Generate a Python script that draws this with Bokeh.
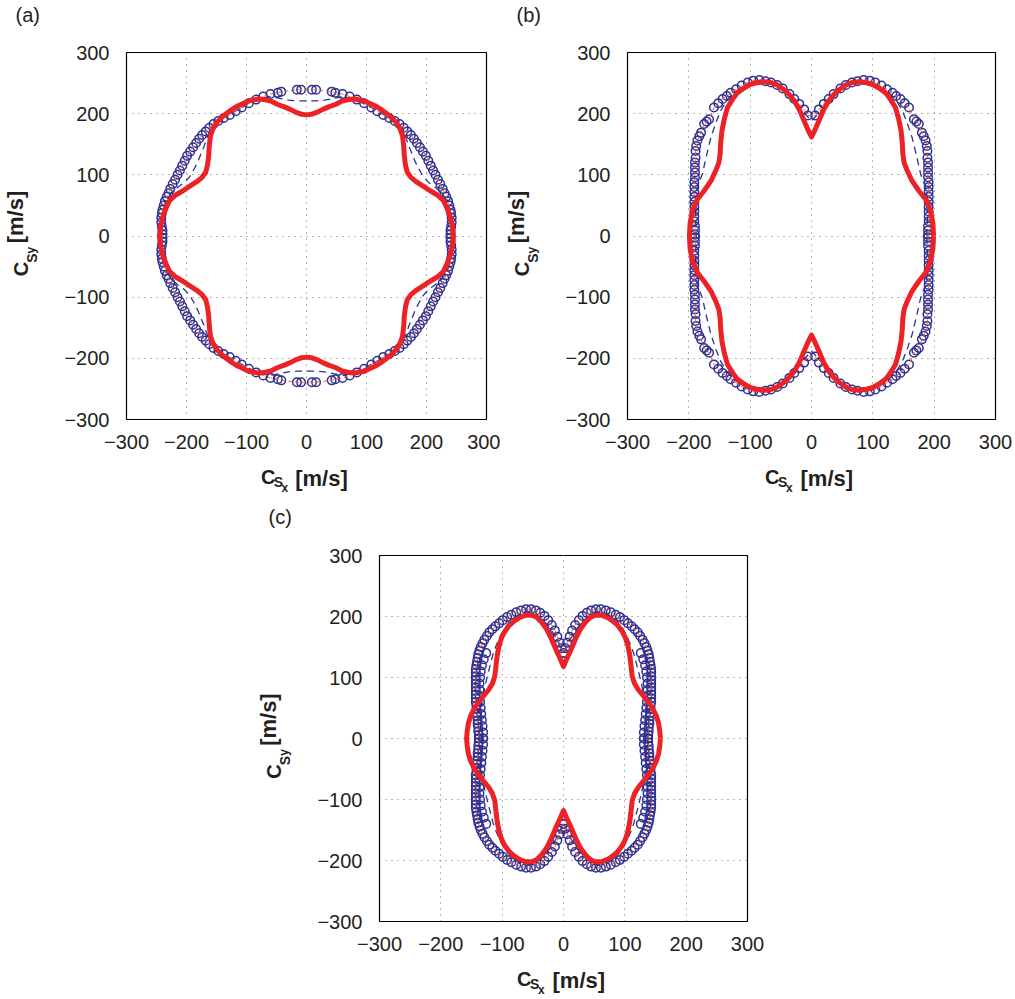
import math
from bokeh.plotting import figure
from bokeh.layouts import column, row
from bokeh.models import Spacer, FixedTicker, Range1d, LinearAxis
from bokeh.embed import file_html
from bokeh.resources import INLINE

# ---------------- data (first quadrant, from 0 deg to 90 deg; curves are symmetric) ----
TICK_VALUES = [-300, -200, -100, 0, 100, 200, 300]
TICK_LABELS = ["\u2212300", "\u2212200", "\u2212100", "0", "100", "200", "300"]
PANEL_TAGS = ["(a)", "(b)", "(c)"]

# Panel (a)
A_RED_X = [245, 243, 239, 234, 228, 218, 206, 195, 184, 175, 168, 165, 163, 162, 160, 156, 150, 142, 134, 124, 114, 103, 92, 80, 70, 58, 48, 37, 27, 17, 8, 0]
A_RED_Y = [0, 17, 33, 46, 58, 67, 74, 81, 88, 95, 104, 116, 131, 148, 164, 175, 185, 193, 200, 207, 213, 218, 222, 224, 223, 220, 215, 211, 207, 202, 199, 198]
A_DASH_X = [242, 243, 240, 235, 226, 214, 203, 194, 187, 181, 176, 171, 166, 160, 150, 138, 124, 108, 92, 76, 62, 45, 30, 15, 0]
A_DASH_Y = [0, 20, 40, 56, 70, 80, 88, 98, 110, 122, 134, 146, 160, 175, 186, 194, 201, 210, 218, 224, 228, 225, 222, 221, 221]
A_CIRC_X = [240, 240, 241, 242, 242, 241, 240, 238, 236, 233, 230, 227, 223, 219, 215, 211, 207, 203, 199, 194, 189, 184, 179, 174, 168, 162, 155, 147, 138, 128, 118, 108, 96, 84, 72, 60, 48, 42, 16, 9]
A_CIRC_Y = [3, 9, 15, 22, 30, 37, 43, 50, 57, 64, 70, 77, 85, 92, 100, 107, 115, 123, 131, 138, 145, 152, 159, 165, 171, 177, 183, 188, 193, 198, 204, 210, 217, 223, 228, 232, 234, 236, 239, 239]

# Panel (b)
B_RED_X = [199, 198, 194, 186, 175, 164, 156, 151, 149, 148, 146, 142, 137, 129, 121, 110, 99, 88, 77, 66, 56, 46, 37, 28, 20, 12, 5, 0]
B_RED_Y = [0, 20, 42, 60, 74, 90, 107, 120, 134, 153, 172, 192, 210, 223, 234, 242, 248, 251, 252, 251, 247, 240, 232, 221, 207, 188, 172, 162]
B_DASH_X = [188, 189, 189, 187, 183, 178, 172, 164, 156, 148, 138, 124, 104, 85, 66, 47, 30, 15, 0]
B_DASH_Y = [0, 30, 60, 75, 88, 101, 128, 161, 185, 205, 222, 236, 249, 254, 250, 240, 222, 205, 188]
B_CIRC_X = [190, 190, 190, 191, 191, 191, 191, 191, 191, 191, 191, 191, 190, 190, 190, 190, 189, 189, 188, 186, 183, 180, 175, 171, 167, 159, 152, 145, 138, 132, 123, 114, 104, 95, 85, 75, 66, 56, 47, 36, 28, 20, 12, 6]
B_CIRC_Y = [2, 9, 16, 24, 32, 40, 48, 56, 64, 72, 80, 88, 96, 104, 112, 120, 128, 139, 147, 156, 163, 169, 183, 187, 191, 210, 217, 224, 229, 234, 240, 246, 251, 254, 255, 253, 251, 247, 241, 232, 224, 216, 207, 197]

# Panel (c)
C_RED_X = [158, 157, 155, 151, 145, 138, 130, 122, 116, 112, 110, 108, 105, 101, 96, 88, 80, 72, 62, 52, 44, 36, 28, 20, 12, 5, 0]
C_RED_Y = [0, 12, 25, 38, 50, 60, 70, 80, 90, 102, 120, 137, 152, 165, 175, 186, 193, 198, 202, 202, 199, 191, 180, 164, 145, 130, 118]
C_DASH_X = [134, 135, 135, 133, 130, 127, 123, 119, 115, 110, 104, 97, 88, 78, 68, 58, 48, 38, 28, 18, 8, 0]
C_DASH_Y = [0, 20, 40, 60, 76, 90, 107, 122, 138, 152, 166, 180, 191, 200, 206, 208, 205, 198, 188, 175, 157, 142]
C_CIRC_X = [138, 138, 139, 139, 140, 140, 141, 141, 142, 142, 143, 143, 143, 143, 143, 143, 143, 143, 143, 143, 142, 141, 140, 139, 137, 135, 132, 129, 125, 121, 116, 111, 105, 99, 92, 85, 77, 69, 61, 53, 45, 38, 31, 25, 19, 14, 10, 6, 3, 0]
C_CIRC_Y = [0, 6, 12, 18, 24, 30, 36, 42, 48, 54, 60, 66, 72, 78, 84, 90, 96, 102, 108, 114, 120, 126, 132, 138, 144, 150, 156, 162, 168, 174, 179, 184, 189, 194, 199, 203, 207, 210, 212, 212, 210, 206, 201, 194, 186, 177, 167, 157, 148, 140]
C_CIRC2_X = [131, 131, 132, 133, 134, 135, 136, 137, 137, 137, 136, 135, 133, 130, 126]
C_CIRC2_Y = [0, 10, 20, 30, 40, 50, 60, 70, 80, 90, 100, 110, 120, 130, 140]

# axis-title pieces: text, centre position along the axis (data units)
XLABEL_C = (["C"], [-64])
XLABEL_SUB1 = (["S"], [-47])
XLABEL_SUB2 = (["x"], [-36])
XLABEL_UNIT = (["[m/s]"], [25])
YLABEL_C = (["C"], [-54])
YLABEL_SUB1 = (["S"], [-36])
YLABEL_SUB2 = (["y"], [-23])
YLABEL_UNIT = (["[m/s]"], [31])

# ---------------- styling ----------------
BLUE = "#2E3192"
RED = "#EC2227"
ORANGE = "#F0642D"
TEXT = "#231F20"
FONT = "Liberation Sans"


def mirror(xq, yq):
    """Close a first-quadrant path into a full curve using the plot's symmetry."""
    xs = list(xq) + [-v for v in xq[::-1]] + [-v for v in xq] + list(xq[::-1])
    ys = list(yq) + list(yq[::-1]) + [-v for v in yq] + [-v for v in yq[::-1]]
    return xs, ys


def style_axis(ax, size, bold=False, standoff=0):
    ax.major_label_text_font = FONT
    ax.major_label_text_font_size = f"{size}px"
    ax.major_label_text_font_style = "bold" if bold else "normal"
    ax.major_label_text_color = TEXT
    ax.major_tick_in = 0
    ax.major_tick_out = 0
    ax.minor_tick_in = 0
    ax.minor_tick_out = 0
    ax.axis_line_color = None
    ax.major_label_standoff = standoff


def text_axis(p, side, piece, size, standoff):
    texts, pos = piece
    ax = LinearAxis(ticker=FixedTicker(ticks=pos),
                    major_label_overrides={v: t for v, t in zip(pos, texts)})
    style_axis(ax, size, True, standoff)
    if side == "left":
        ax.major_label_orientation = "parallel"
    p.add_layout(ax, side)


def make_panel(tag, red, dash, circ, width, height, bl, br, bt, bb, tag_gap, circ2=None):
    p = figure(width=width, height=height,
               x_range=Range1d(-300, 300), y_range=Range1d(-300, 300),
               output_backend="svg", toolbar_location=None,
               min_border_left=bl, min_border_right=br,
               min_border_top=bt, min_border_bottom=bb)
    p.background_fill_color = "white"
    p.border_fill_color = "white"
    p.outline_line_color = "black"
    p.outline_line_width = 1.2

    xmain = p.below[0]
    ymain = p.left[0]
    ticker = FixedTicker(ticks=TICK_VALUES)
    overrides = {v: s for v, s in zip(TICK_VALUES, TICK_LABELS)}
    for ax in (xmain, ymain):
        ax.ticker = ticker
        ax.major_label_overrides = overrides
    style_axis(xmain, 20, False, 15)
    style_axis(ymain, 20, False, 17)
    for g in (p.xgrid[0], p.ygrid[0]):
        g.ticker = ticker
        g.grid_line_color = "#6d6d6d"
        g.grid_line_dash = "1 5"
        g.grid_line_width = 1

    # blank band above the frame that lifts the panel tag up
    gap = LinearAxis(ticker=FixedTicker(ticks=[0]), major_label_overrides={0: " "})
    style_axis(gap, 1)
    gap.major_tick_out = tag_gap
    gap.major_tick_line_color = "white"
    p.add_layout(gap, "above")

    p.title.text = tag
    p.title.align = "left"
    p.title.offset = -111
    p.title.standoff = 0
    p.title.text_font = FONT
    p.title.text_font_size = "20px"
    p.title.text_font_style = "normal"
    p.title.text_color = TEXT

    # axis titles built from pieces so that nested subscripts stay real text
    text_axis(p, "below", XLABEL_C, 20, 14)
    text_axis(p, "below", XLABEL_SUB1, 14, -17)
    text_axis(p, "below", XLABEL_SUB2, 12, -12)
    text_axis(p, "below", XLABEL_UNIT, 22, -32)
    text_axis(p, "left", YLABEL_SUB2, 12, 23)
    text_axis(p, "left", YLABEL_SUB1, 14, -19)
    text_axis(p, "left", YLABEL_C, 20, -11)
    text_axis(p, "left", YLABEL_UNIT, 22, -21)

    cx, cy = mirror(*circ)
    dx_, dy_ = mirror(*dash)
    rx, ry = mirror(*red)

    p.scatter(cx, cy, marker="circle", size=8.5, fill_color=None,
              line_color=BLUE, line_width=1.5)
    if circ2 is not None:
        c2x, c2y = mirror(*circ2)
        p.scatter(c2x, c2y, marker="circle", size=8.5, fill_color=None,
                  line_color=BLUE, line_width=1.5)
    p.line(dx_, dy_, line_color=BLUE, line_width=1.3, line_dash="7 5")
    p.line(cx, cy, line_color=ORANGE, line_width=1.0, line_dash="4 3")
    p.line(rx, ry, line_color=RED, line_width=5, line_join="round")
    return p


pa = make_panel(PANEL_TAGS[0], (A_RED_X, A_RED_Y), (A_DASH_X, A_DASH_Y), (A_CIRC_X, A_CIRC_Y),
                500, 500, 118, 14, 52, 81, 23)
pb = make_panel(PANEL_TAGS[1], (B_RED_X, B_RED_Y), (B_DASH_X, B_DASH_Y), (B_CIRC_X, B_CIRC_Y),
                515, 500, 127, 20, 52, 81, 23)
pc = make_panel(PANEL_TAGS[2], (C_RED_X, C_RED_Y), (C_DASH_X, C_DASH_Y), (C_CIRC_X, C_CIRC_Y),
                520, 499, 129, 23, 55, 76, 24, circ2=(C_CIRC2_X, C_CIRC2_Y))

layout = column(row(pa, pb, spacing=0),
                row(Spacer(width=250, height=499), pc, spacing=0),
                spacing=0)

open("out.html", "w").write(file_html(layout, INLINE))
